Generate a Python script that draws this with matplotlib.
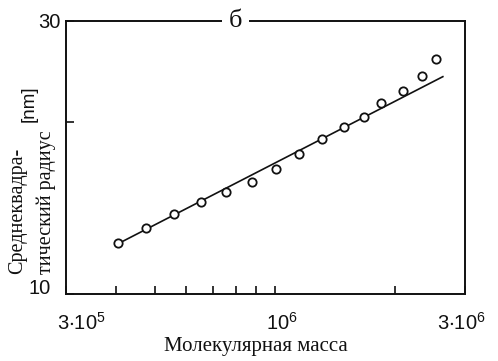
import matplotlib
matplotlib.use("Agg")
import matplotlib.pyplot as plt
from matplotlib.ticker import FixedLocator, NullLocator, FixedFormatter
import matplotlib.transforms as mtransforms

# ---- data ----
molecular_mass = [4.05e5, 4.77e5, 5.60e5, 6.53e5, 7.55e5, 8.76e5, 1.01e6, 1.153e6,
                  1.312e6, 1.496e6, 1.679e6, 1.848e6, 2.095e6, 2.338e6, 2.545e6]
rms_radius = [12.29, 13.02, 13.80, 14.50, 15.09, 15.70, 16.54, 17.57,
              18.66, 19.61, 20.36, 21.54, 22.64, 24.04, 25.71]
fit_mass = [4.04e5, 2.64e6]
fit_radius = [12.23, 23.98]

x_tick_values = [3e5, 4e5, 5e5, 6e5, 7e5, 8e5, 9e5, 1e6, 2e6, 3e6]
x_tick_labels = [r"$\mathregular{3{\cdot}10^{5}}$", "", "", "", "", "", "",
                 r"$\mathregular{10^{6}}$", "", r"$\mathregular{3{\cdot}10^{6}}$"]
y_tick_values = [10, 20, 30]
y_tick_labels = ["10", "", "30"]

panel_label = "б"
x_label = "Молекулярная масса"
y_label = "Среднеквадра-\nтический радиус"
y_unit = "[nm]"

plt.rcParams["mathtext.fontset"] = "custom"
plt.rcParams["mathtext.rm"] = "Liberation Sans"
plt.rcParams["font.family"] = ["Liberation Sans", "DejaVu Sans"]

ink = "#111111"
W, H = 498, 361
fig = plt.figure(figsize=(W / 100, H / 100), dpi=100)
ax = fig.add_axes([66 / W, 1 - 294 / H, (465 - 66) / W, (294 - 21) / H])

ax.set_xscale("log")
ax.set_yscale("log")
ax.set_xlim(3e5, 3e6)
ax.set_ylim(10, 30)

ax.plot(fit_mass, fit_radius, color=ink, lw=1.2, zorder=2)
ax.plot(molecular_mass, rms_radius, linestyle="none", marker="o", ms=6,
        mfc="white", mec=ink, mew=1.3, zorder=3)

for s in ax.spines.values():
    s.set_color(ink)
    s.set_linewidth(1.4)

ax.xaxis.set_major_locator(FixedLocator(x_tick_values))
ax.xaxis.set_major_formatter(FixedFormatter(x_tick_labels))
ax.xaxis.set_minor_locator(NullLocator())
ax.yaxis.set_major_locator(FixedLocator(y_tick_values))
ax.yaxis.set_major_formatter(FixedFormatter(y_tick_labels))
ax.yaxis.set_minor_locator(NullLocator())

ax.tick_params(axis="x", direction="in", length=6, width=1.2, color=ink,
               labelsize=14.5, pad=13, labelcolor=ink)
ax.tick_params(axis="y", direction="in", length=6, width=1.2, color=ink,
               labelsize=14.5, pad=4, labelcolor=ink)

# individual shifts of the tick labels as in the original
shifts = {0: 15, 7: 7, 9: -4}
for i, lab in enumerate(ax.get_xticklabels()):
    dx = shifts.get(i, 0)
    lab.set_transform(lab.get_transform() + mtransforms.ScaledTranslation(dx / 100, 0, fig.dpi_scale_trans))
ylabs = ax.get_yticklabels()
ylabs[0].set_transform(ylabs[0].get_transform() + mtransforms.ScaledTranslation(-10 / 100, 7 / 100, fig.dpi_scale_trans))

# panel label interrupting the top spine
ax.text(0.424, 1.0, panel_label, transform=ax.transAxes, ha="center", va="center",
        fontsize=19, family="Liberation Serif", color=ink,
        bbox=dict(facecolor="white", edgecolor="none", pad=5), zorder=5, clip_on=False)

fig.text(256 / W, 1 - 347 / H, x_label, ha="center", va="center",
         fontsize=15, family="Liberation Serif", color=ink)
fig.text(32 / W, 1 - 202 / H, y_label, ha="center", va="center", rotation=90,
         multialignment="left",
         fontsize=14.5, family="Liberation Serif", color=ink, linespacing=1.6)
fig.text(29 / W, 1 - 104 / H, y_unit, ha="center", va="center", rotation=90,
         fontsize=13.5, family="Liberation Sans", color=ink)

fig.savefig("out.png", dpi=100, facecolor="white")
